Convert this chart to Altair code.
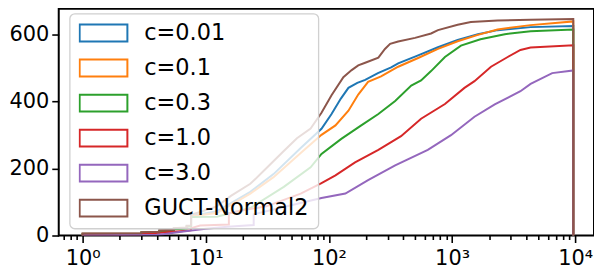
import altair as alt
import pandas as pd

# ---------------- data ----------------
series_names = ["c=0.01", "c=0.1", "c=0.3", "c=1.0", "c=3.0", "GUCT-Normal2"]
series_colors = ["#1f77b4", "#ff7f0e", "#2ca02c", "#d62728", "#9467bd", "#8c564b"]

c001_x = [1, 1, 3, 3, 4.2, 4.2, 5.5, 5.5, 7, 7, 7.6, 7.6, 12.3, 23, 35.5, 59, 87, 105, 125, 144, 170, 197,
          250, 320, 365, 530, 768, 1110, 1620, 2340, 4340, 9640, 9640]
c001_y = [0, 5, 6, 9, 10, 15, 16, 21, 23, 28, 29, 58, 72, 130, 183, 261, 318, 362, 408, 440, 455, 464,
          484, 501, 513, 537, 561, 583, 600, 612, 621, 624, 0]

c01_x = [1, 1, 3, 3, 4.2, 4.2, 5.5, 5.5, 7, 7, 7.6, 7.6, 12.3, 23, 35.5, 59, 87, 113, 144, 173, 208, 265,
         365, 530, 768, 1110, 1620, 2340, 4340, 9640, 9640]
c01_y = [0, 5, 6, 9, 10, 14, 15, 20, 22, 27, 28, 57, 67, 125, 174, 246, 300, 328, 372, 420, 458, 474,
         503, 529, 556, 579, 598, 614, 627, 638, 0]

c03_x = [1, 1, 3, 3, 4.2, 4.2, 5.5, 5.5, 7, 7, 7.6, 7.6, 12.3, 23, 43, 71, 87, 126, 183, 252, 345, 466,
         560, 675, 875, 1180, 1700, 2680, 4340, 9640, 9640]
c03_y = [0, 4, 5, 8, 9, 13, 14, 19, 21, 26, 27, 55, 56, 82, 145, 203, 243, 288, 328, 362, 401, 447,
         462, 490, 532, 566, 585, 600, 609, 614, 0]

c10_x = [1, 1, 3, 3, 4.2, 5.5, 7, 7.6, 7.6, 9, 15.4, 15.4, 20, 31, 59, 87, 113, 163, 252, 385, 560, 875,
         1260, 1520, 2070, 2830, 3590, 4340, 9640, 9640]
c10_y = [0, 2, 3, 5, 8, 11, 14, 16, 22, 30, 33, 66, 75, 87, 125, 156, 179, 218, 255, 296, 348, 392,
         440, 460, 503, 532, 553, 560, 567, 0]

c30_x = [1, 1, 4, 4.5, 5.5, 7.6, 10, 15, 24.5, 24.5, 43, 87, 136, 208, 345, 635, 980, 1520, 2220, 3590,
         4340, 6500, 9640, 9640]
c30_y = [0, 1, 2, 4, 8, 15, 20, 26, 31, 63, 85, 112, 125, 165, 209, 255, 299, 354, 391, 430,
         452, 484, 492, 0]

gnorm_x = [1, 1, 3, 3, 4.2, 4.2, 5.5, 5.5, 7, 7, 7.6, 7.6, 9, 12.3, 16, 23, 30, 43, 55, 71, 87, 105, 131,
           153, 173, 197, 252, 285, 314, 365, 500, 675, 768, 1110, 1420, 2340, 4340, 9640, 9640]
gnorm_y = [0, 6, 7, 10, 11, 16, 17, 22, 24, 29, 30, 62, 70, 87, 118, 154, 195, 252, 290, 319, 366, 418, 472,
           493, 507, 515, 530, 556, 571, 578, 589, 602, 612, 628, 636, 641, 643, 645, 0]

series_x = [c001_x, c01_x, c03_x, c10_x, c30_x, gnorm_x]
series_y = [c001_y, c01_y, c03_y, c10_y, c30_y, gnorm_y]

y_ticks = [0, 200, 400, 600]
x_major = [1, 10, 100, 1000, 10000]
x_major_labels = ["10⁰", "10¹", "10²", "10³", "10⁴"]
x_minor = [0.7, 0.8, 0.9] + [m * 10 ** k for k in range(0, 4) for m in range(2, 10)]

x_domain = [0.64, 14200]
y_domain = [0, 676]

# ---------------- build table ----------------
rows = []
for name, xs, ys in zip(series_names, series_x, series_y):
    for i, (xv, yv) in enumerate(zip(xs, ys)):
        rows.append({"series": name, "x": xv, "y": yv, "i": i})
df = pd.DataFrame(rows)

major_js = "[" + ",".join(str(v) for v in x_major) + "]"
labels_js = "[" + ",".join("'" + s + "'" for s in x_major_labels) + "]"
label_expr = (f"indexof({major_js}, datum.value) >= 0 ? "
              f"{labels_js}[indexof({major_js}, datum.value)] : ''")

x_axis = alt.Axis(
    values=sorted(x_major + x_minor),
    labelExpr=label_expr,
    labelOverlap=False,
    labelFlush=False,
    labelPadding=5,
    tickSize={"condition": {"test": f"indexof({major_js}, datum.value) >= 0", "value": 7}, "value": 4},
    title=None,
)
y_axis = alt.Axis(values=y_ticks, tickSize=7, labelPadding=3, title=None)

rect_path = "M-1,-0.354L1,-0.354L1,0.354L-1,0.354Z"

color = alt.Color(
    "series:N",
    scale=alt.Scale(domain=series_names, range=series_colors),
    title=None,
    legend=alt.Legend(
        orient="none", legendX=11, legendY=5,
        fillColor="rgba(255,255,255,0.8)", strokeColor="#d0d0d0",
        cornerRadius=5, padding=9,
        symbolType=rect_path, symbolSize=2304, symbolStrokeWidth=2,
        symbolFillColor="white",
        labelFont="DejaVu Sans", labelFontSize=22.5, labelColor="black",
        labelLimit=400,
        labelOffset=16, clipHeight=21, rowPadding=12.2,
    ),
)

layers = []
for name in series_names:
    layers.append(
        alt.Chart(df)
        .transform_filter(alt.datum.series == name)
        .mark_line(strokeWidth=2, clip=True)
        .encode(
            x=alt.X("x:Q", scale=alt.Scale(type="log", domain=x_domain, nice=False), axis=x_axis),
            y=alt.Y("y:Q", scale=alt.Scale(domain=y_domain, nice=False, zero=False), axis=y_axis),
            color=color,
            order=alt.Order("i:Q"),
        )
    )

chart = (
    alt.layer(*layers)
    .properties(
        width=538, height=228,
        autosize=alt.AutoSizeParams(type="none"),
        padding={"left": 51, "top": 0, "right": 0, "bottom": 36},
    )
    .configure(font="DejaVu Sans")
    .configure_view(stroke="black", strokeWidth=2)
    .configure_axis(domain=False, grid=False, labelFont="DejaVu Sans", labelFontSize=21,
                    labelColor="black", tickColor="black", tickWidth=1.6)
    .configure_legend(strokeWidth=1.3)
)

chart.save("out.html", embed_options={"renderer": "svg", "actions": False})
